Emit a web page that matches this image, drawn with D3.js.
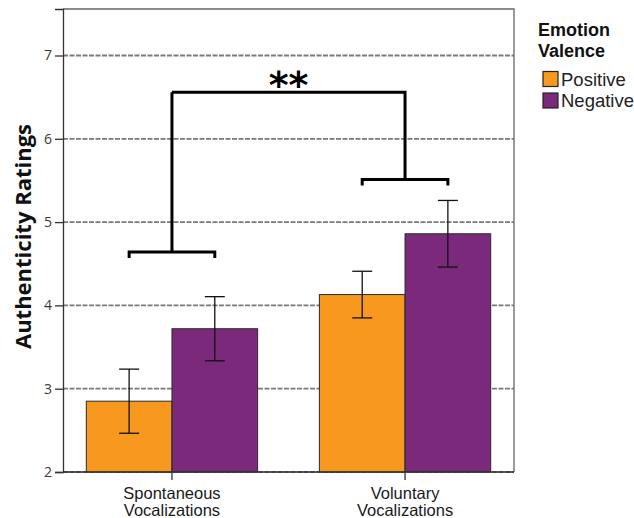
<!DOCTYPE html>
<html>
<head>
<meta charset="utf-8">
<script src="https://cdn.jsdelivr.net/npm/d3@7"></script>
<style>
  body { margin: 0; background: #fff; }
  svg { display: block; font-family: "Open Sans", "DejaVu Sans", sans-serif; }
</style>
</head>
<body>
<svg id="chart" width="634" height="518"></svg>
<script>
// Vocalization types (x groups) and emotion valence (bars within a group)
const categories = ["Spontaneous Vocalizations", "Voluntary Vocalizations"];
const categoryLines = [["Spontaneous", "Vocalizations"], ["Voluntary", "Vocalizations"]];
const valences = ["Positive", "Negative"];
const positiveMeans = [2.85, 4.13];
const negativeMeans = [3.72, 4.86];
const positiveErr = [0.385, 0.28];
const negativeErr = [0.385, 0.40];
const yTicks = [2, 3, 4, 5, 6, 7];
const bracketLevels = [4.64, 5.51];   // lower brackets over each group
const bracketTop = 6.56;               // connecting bar
const sigLabel = "**";
const legendTitle = ["Emotion", "Valence"];
const colors = { Positive: "#F7991F", Negative: "#7B2A7B" };

const svg = d3.select("#chart");
const x0 = 63, x1 = 514, yTop = 9, yBot = 472;

const x = d3.scaleBand().domain(categories).range([x0, x1])
  .paddingInner(0.265).paddingOuter(0.1);
const xs = d3.scaleBand().domain(valences).range([0, x.bandwidth()]);
const y = d3.scaleLinear().domain([2, 2 + (yBot - yTop) / 83.3]).range([yBot, yTop]);

const rows = categories.flatMap((c, i) => [
  { cat: c, val: "Positive", mean: positiveMeans[i], err: positiveErr[i] },
  { cat: c, val: "Negative", mean: negativeMeans[i], err: negativeErr[i] }
]);

// frame: top and right border
svg.append("path")
  .attr("d", `M${x0},${yTop}H${x1}V${yBot}`)
  .attr("fill", "none").attr("stroke", "#666").attr("stroke-width", 1.3);

// dashed gridlines
svg.append("g").selectAll("line").data(yTicks).join("line")
  .attr("x1", x0).attr("x2", x1)
  .attr("y1", d => y(d)).attr("y2", d => y(d))
  .attr("stroke", "#7a7a7a").attr("stroke-width", 1.8)
  .attr("stroke-dasharray", "5,1.5");

// bars
svg.append("g").selectAll("rect").data(rows).join("rect")
  .attr("x", d => x(d.cat) + xs(d.val))
  .attr("y", d => y(d.mean))
  .attr("width", xs.bandwidth())
  .attr("height", d => y(2) - y(d.mean))
  .attr("fill", d => colors[d.val])
  .attr("stroke", "#2a2a2a").attr("stroke-width", 1);

// error bars
const eb = svg.append("g").attr("stroke", "#111").attr("stroke-width", 1.3);
rows.forEach(d => {
  const cx = x(d.cat) + xs(d.val) + xs.bandwidth() / 2;
  const cap = 10;
  eb.append("line").attr("x1", cx).attr("x2", cx)
    .attr("y1", y(d.mean + d.err)).attr("y2", y(d.mean - d.err));
  eb.append("line").attr("x1", cx - cap).attr("x2", cx + cap)
    .attr("y1", y(d.mean + d.err)).attr("y2", y(d.mean + d.err));
  eb.append("line").attr("x1", cx - cap).attr("x2", cx + cap)
    .attr("y1", y(d.mean - d.err)).attr("y2", y(d.mean - d.err));
});

// y axis
const yAxis = svg.append("g").attr("transform", `translate(${x0},0)`)
  .call(d3.axisLeft(y).tickValues(yTicks).tickSize(8).tickPadding(3).tickFormat(d3.format("d")));
yAxis.select(".domain").attr("stroke", "#333").attr("stroke-width", 1.3);
yAxis.selectAll(".tick line").attr("stroke", "#333").attr("stroke-width", 1.3);
yAxis.selectAll(".tick text").attr("fill", "#3a3a3a").attr("font-size", 14)
  .attr("font-family", "'Open Sans', sans-serif");

// x axis
const xAxis = svg.append("g").attr("transform", `translate(0,${yBot})`)
  .call(d3.axisBottom(x).tickSize(8).tickFormat(""));
xAxis.select(".domain").attr("stroke", "#333").attr("stroke-width", 1.3)
  .attr("d", `M${x0},0H${x1}`);
xAxis.selectAll(".tick line").attr("stroke", "#333").attr("stroke-width", 1.3);
xAxis.selectAll(".tick").each(function (d, i) {
  const t = d3.select(this).append("text")
    .attr("fill", "#1a1a1a").attr("font-size", 16.5).attr("text-anchor", "middle");
  categoryLines[i].forEach((ln, k) => {
    t.append("tspan").attr("x", 0).attr("y", 27 + k * 17).text(ln);
  });
});

// significance brackets
const br = svg.append("g").attr("fill", "none").attr("stroke", "#000")
  .attr("stroke-width", 3).attr("stroke-linejoin", "miter");
const centers = categories.map(c => x(c) + x.bandwidth() / 2);
categories.forEach((c, i) => {
  const xa = x(c) + xs("Positive") + xs.bandwidth() / 2;
  const xb = x(c) + xs("Negative") + xs.bandwidth() / 2;
  const yy = y(bracketLevels[i]);
  br.append("path").attr("d", `M${xa},${yy + 6}V${yy}H${xb}V${yy + 6}`);
});
br.append("path").attr("d",
  `M${centers[0]},${y(bracketTop)}V${y(bracketLevels[0])}M${centers[0]},${y(bracketTop)}H${centers[1]}V${y(bracketLevels[1])}`);
svg.append("text")
  .attr("x", (centers[0] + centers[1]) / 2).attr("y", y(bracketTop) + 6)
  .attr("text-anchor", "middle").attr("font-size", 38).attr("font-weight", "bold")
  .attr("font-family", "'DejaVu Sans', sans-serif")
  .text(sigLabel);

// y axis title
svg.append("text")
  .attr("transform", `translate(31,${(yTop + yBot) / 2 - 4}) rotate(-90)`)
  .attr("text-anchor", "middle").attr("font-size", 22).attr("font-weight", "bold")
  .attr("fill", "#111").text("Authenticity Ratings");

// legend
const lg = svg.append("g").attr("transform", "translate(538,0)")
  .attr("font-family", "'Liberation Sans', Arial, sans-serif");
lg.selectAll("text.title").data(legendTitle).join("text")
  .attr("class", "title").attr("x", 0).attr("y", (d, i) => 36 + i * 21)
  .attr("font-size", 18).attr("font-weight", "bold").attr("fill", "#111")
  .text(d => d);
valences.forEach((v, i) => {
  const yy = 71.5 + i * 21.5;
  lg.append("rect").attr("x", 5).attr("y", yy).attr("width", 15).attr("height", 15)
    .attr("fill", colors[v]).attr("stroke", "#222").attr("stroke-width", 1.2);
  lg.append("text").attr("x", 23).attr("y", yy + 14).attr("font-size", 18.5)
    .attr("fill", "#222").text(v);
});
</script>
</body>
</html>
